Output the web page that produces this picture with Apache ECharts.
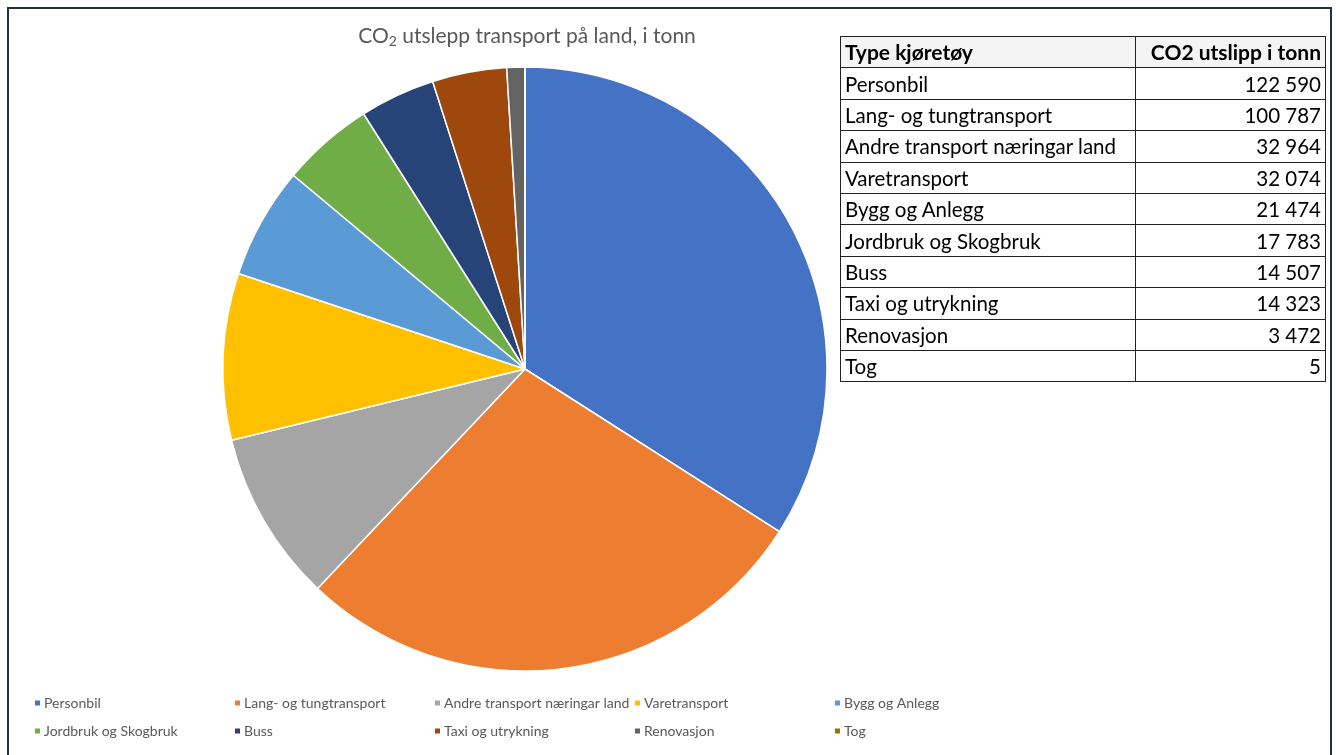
<!DOCTYPE html>
<html>
<head>
<meta charset="utf-8">
<script src="https://cdn.jsdelivr.net/npm/echarts@6/dist/echarts.min.js"></script>
<style>
  html, body { margin: 0; padding: 0; background: #fff; }
  #chart { width: 1336px; height: 755px; position: relative; }
  #tbl {
    position: absolute; left: 840px; top: 36px;
    border-collapse: collapse; font-family: Lato, sans-serif; font-size: 20.5px; color: #000;
  }
  #tbl td, #tbl th { border: 1.5px solid #222; height: 30.4px; padding: 0 4px; line-height: 30px; white-space: nowrap; }
  #tbl th { background: #f4f4f4; font-weight: bold; text-align: left; font-size: 21px; }
  #tbl td.v, #tbl th.v { text-align: right; }
</style>
</head>
<body>
<div id="chart"></div>
<script>
// kategoriar og verdiar (tonn CO2)
const categories = ['Personbil', 'Lang- og tungtransport', 'Andre transport næringar land', 'Varetransport',
  'Bygg og Anlegg', 'Jordbruk og Skogbruk', 'Buss', 'Taxi og utrykning', 'Renovasjon', 'Tog'];
const values = [122590, 100787, 32964, 32074, 21474, 17783, 14507, 14323, 3472, 5];
const colors = ['#4472C4', '#ED7D31', '#A5A5A5', '#FFC000', '#5B9BD5', '#70AD47', '#264478', '#9E480E', '#636363', '#997300'];
const tableHeader = ['Type kjøretøy', 'CO2 utslipp i tonn'];

function fmt(n) {
  return String(n).replace(/\B(?=(\d{3})+(?!\d))/g, ' ');
}

let chart = echarts.init(document.getElementById('chart'));

// legend i kolonnar, to rader kvar
let legends = [];
for (let c = 0; c < 5; c++) {
  legends.push({
    orient: 'vertical',
    left: 28 + c * 200,
    top: 691,
    itemWidth: 7,
    itemHeight: 7,
    itemGap: 14,
    icon: 'rect',
    textStyle: { fontFamily: 'Lato', fontSize: 14, color: '#595959', padding: [0, 0, 0, -2] },
    data: [categories[c], categories[c + 5]]
  });
}

let option = {
  backgroundColor: '#fff',
  color: colors,
  animation: false,
  title: {
    text: '{a|CO}{s|2}{a| utslepp transport på land, i tonn}',
    left: 522,
    top: 20,
    textAlign: 'center',
    textStyle: {
      fontWeight: 'normal',
      rich: {
        a: { fontFamily: 'Lato', fontSize: 21, fontWeight: 'normal', color: '#595959' },
        s: { fontFamily: 'Lato', fontSize: 14, fontWeight: 'normal', color: '#595959', padding: [9, 0, 0, 0] }
      }
    }
  },
  legend: legends,
  graphic: [{
    type: 'rect',
    shape: { x: 8, y: 8, width: 1323, height: 800 },
    style: { fill: 'none', stroke: '#1c3347', lineWidth: 2 },
    silent: true
  }],
  series: [{
    type: 'pie',
    center: [525, 369],
    radius: 302,
    startAngle: 90,
    label: { show: false },
    labelLine: { show: false },
    itemStyle: { borderColor: '#fff', borderWidth: 1.5 },
    emphasis: { disabled: true },
    data: categories.map((name, i) => ({ name: name, value: values[i] }))
  }]
};
chart.setOption(option);

// tabellen til høgre
let tbl = document.createElement('table');
tbl.id = 'tbl';
let html = '<tr><th style="width:286px">' + tableHeader[0] + '</th><th class="v" style="width:181px">' + tableHeader[1] + '</th></tr>';
categories.forEach((name, i) => {
  html += '<tr><td>' + name + '</td><td class="v">' + fmt(values[i]) + '</td></tr>';
});
tbl.innerHTML = html;
document.getElementById('chart').appendChild(tbl);
</script>
</body>
</html>
